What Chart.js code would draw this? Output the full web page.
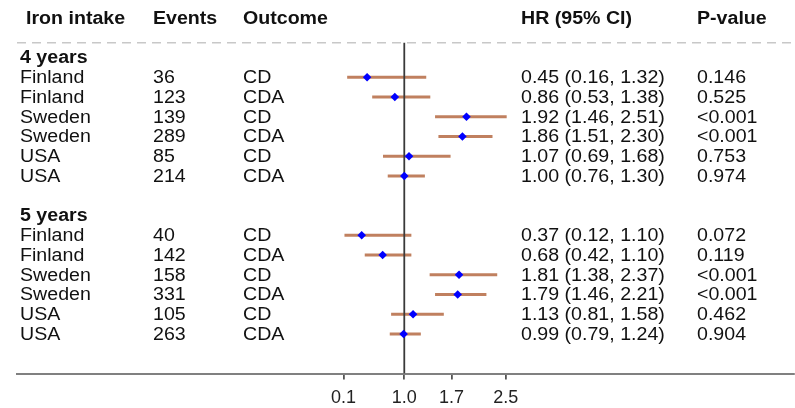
<!DOCTYPE html>
<html>
<head>
<meta charset="utf-8">
<script src="https://cdn.jsdelivr.net/npm/chart.js@4/dist/chart.umd.min.js"></script>
<style>
  html, body { margin: 0; padding: 0; background: #ffffff; }
  #wrap { width: 795px; height: 408px; position: relative; }
</style>
</head>
<body>
<div id="wrap"><canvas id="forest" width="795" height="408"></canvas></div>
<script>
// Forest plot: hazard ratios of iron intake by country and outcome
const groups   = ['4 years', '5 years'];
const country  = ['Finland', 'Finland', 'Sweden', 'Sweden', 'USA', 'USA',
                  'Finland', 'Finland', 'Sweden', 'Sweden', 'USA', 'USA'];
const events   = [36, 123, 139, 289, 85, 214, 40, 142, 158, 331, 105, 263];
const outcome  = ['CD', 'CDA', 'CD', 'CDA', 'CD', 'CDA',
                  'CD', 'CDA', 'CD', 'CDA', 'CD', 'CDA'];
const hr       = [0.45, 0.86, 1.92, 1.86, 1.07, 1.00, 0.37, 0.68, 1.81, 1.79, 1.13, 0.99];
const ciLow    = [0.16, 0.53, 1.46, 1.51, 0.69, 0.76, 0.12, 0.42, 1.38, 1.46, 0.81, 0.79];
const ciHigh   = [1.32, 1.38, 2.51, 2.30, 1.68, 1.30, 1.10, 1.10, 2.37, 2.21, 1.58, 1.24];
const pValues  = ['0.146', '0.525', '<0.001', '<0.001', '0.753', '0.974',
                  '0.072', '0.119', '<0.001', '<0.001', '0.462', '0.904'];
const xTicks   = [0.1, 1.0, 1.7, 2.5];
const headers  = ['Iron intake', 'Events', 'Outcome', 'HR (95% CI)', 'P-value'];

// row slots: each group gets a title row followed by its studies and a spacer
const perGroup = country.length / groups.length;
const groupRow = groups.map((g, i) => i * (perGroup + 2) - 1);
const studyRow = country.map((c, i) => Math.floor(i / perGroup) * (perGroup + 2) + (i % perGroup));
const headerRow = -3;
const ruleRow = -1.75;
const axisRow = 15;

const X_MIN = -4.729, X_MAX = 6.765;

const FONT = '"Liberation Sans", Arial, Helvetica, sans-serif';
const FONT_SIZE = 17.5;
const STRETCH = 1.12;
const TEXT_NUDGE = 1;
const colX = [20, 153, 243, 521, 697];

const tablePlugin = {
  id: 'tableText',
  afterDraw(chart) {
    const ctx = chart.ctx;
    const y = chart.scales.y;
    const put = (txt, x, py, bold) => {
      ctx.save();
      ctx.translate(x, py + TEXT_NUDGE);
      ctx.scale(STRETCH, 1);
      ctx.font = (bold ? 'bold ' : '') + FONT_SIZE + 'px ' + FONT;
      ctx.fillStyle = '#111111';
      ctx.textBaseline = 'middle';
      ctx.textAlign = 'left';
      ctx.fillText(txt, 0, 0);
      ctx.restore();
    };
    const hy = y.getPixelForValue(headerRow);
    headers.forEach((h, i) => put(h, colX[i] + (i === 0 ? 6 : 0), hy, true));
    groups.forEach((g, i) => put(g, colX[0], y.getPixelForValue(groupRow[i]), true));
    country.forEach((c, i) => {
      const py = y.getPixelForValue(studyRow[i]);
      put(c, colX[0], py, false);
      put(String(events[i]), colX[1], py, false);
      put(outcome[i], colX[2], py, false);
      put(hr[i].toFixed(2) + ' (' + ciLow[i].toFixed(2) + ', ' + ciHigh[i].toFixed(2) + ')', colX[3], py, false);
      put(pValues[i], colX[4], py, false);
    });
  }
};

new Chart(document.getElementById('forest'), {
  type: 'scatter',
  data: {
    datasets: [
      {
        // header separator
        type: 'line',
        data: [{ x: X_MIN, y: ruleRow }, { x: X_MAX, y: ruleRow }],
        borderColor: '#c8c8c8',
        borderWidth: 1.5,
        borderDash: [9, 6],
        pointRadius: 0,
        order: 4
      },
      {
        // confidence intervals
        type: 'bar',
        indexAxis: 'y',
        data: studyRow.map((r, i) => ({ x: [ciLow[i], ciHigh[i]], y: r })),
        backgroundColor: '#c0805f',
        borderWidth: 0,
        barThickness: 2.5,
        grouped: false,
        order: 3
      },
      {
        // line of no effect
        type: 'line',
        data: [{ x: 1, y: ruleRow }, { x: 1, y: axisRow }],
        borderColor: '#3a3a3a',
        borderWidth: 1.8,
        pointRadius: 0,
        order: 2
      },
      {
        // point estimates
        type: 'scatter',
        data: studyRow.map((r, i) => ({ x: hr[i], y: r })),
        backgroundColor: '#0000ff',
        borderColor: '#0000ff',
        borderWidth: 0,
        pointStyle: 'rectRot',
        pointRadius: 4.3,
        order: 1
      }
    ]
  },
  options: {
    responsive: false,
    animation: false,
    layout: { autoPadding: false, padding: { left: 17, right: 1, top: 0, bottom: 0 } },
    plugins: { legend: { display: false }, tooltip: { enabled: false } },
    scales: {
      x: {
        type: 'linear',
        position: 'bottom',
        offset: false,
        min: X_MIN,
        max: X_MAX,
        afterBuildTicks(scale) { scale.ticks = xTicks.map(v => ({ value: v })); },
        afterFit(scale) {
          scale.height = 34.5;
          scale.paddingLeft = 0;
          scale.paddingRight = 0;
        },
        border: { display: true, color: '#808080', width: 2 },
        grid: { offset: false, drawOnChartArea: false, drawTicks: true, tickLength: 6, color: '#555555', lineWidth: 1.8 },
        ticks: {
          autoSkip: false,
          maxRotation: 0,
          padding: 8,
          color: '#222222',
          font: { family: FONT, size: 18 },
          callback: v => Number(v).toFixed(1)
        }
      },
      y: {
        type: 'linear',
        display: false,
        offset: false,
        grid: { offset: false },
        reverse: true,
        min: axisRow - 373.5 / 19.75,
        max: axisRow
      }
    }
  },
  plugins: [tablePlugin]
});
</script>
</body>
</html>
